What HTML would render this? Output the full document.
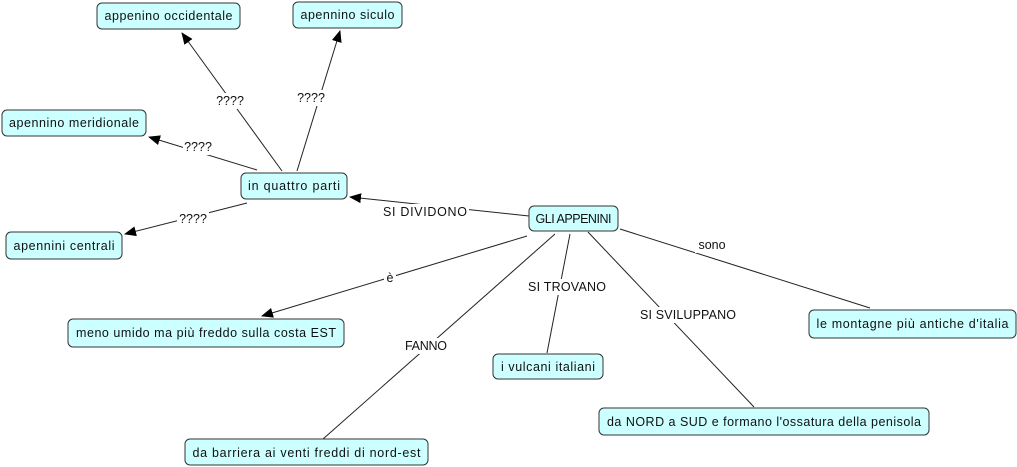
<!DOCTYPE html>
<html><head><meta charset="utf-8"><style>
html,body{margin:0;padding:0;background:#fff;width:1017px;height:467px;overflow:hidden}
svg{display:block}
text{font-family:"Liberation Sans",sans-serif;font-size:12.5px;fill:#111}
.n{fill:#ccffff;stroke:#333;stroke-width:1}
.l{stroke:#222;stroke-width:1;fill:none}
.b{fill:#fff}
</style></head><body>
<svg width="1017" height="467" viewBox="0 0 1017 467" xmlns="http://www.w3.org/2000/svg">
<defs><marker id="a" markerWidth="12" markerHeight="10" refX="11" refY="5" orient="auto" markerUnits="userSpaceOnUse"><path d="M0,0 L12,5 L0,10 z" fill="#000"/></marker></defs>
<!-- lines -->
<line class="l" x1="282" y1="171" x2="182" y2="33" marker-end="url(#a)"/>
<line class="l" x1="297" y1="171" x2="340" y2="31" marker-end="url(#a)"/>
<line class="l" x1="257" y1="170" x2="149" y2="137" marker-end="url(#a)"/>
<line class="l" x1="247" y1="203" x2="125" y2="234" marker-end="url(#a)"/>
<line class="l" x1="529" y1="216" x2="350" y2="197" marker-end="url(#a)"/>
<line class="l" x1="527" y1="236" x2="262" y2="316" marker-end="url(#a)"/>
<line class="l" x1="555" y1="234" x2="323" y2="439"/>
<line class="l" x1="570" y1="234" x2="547" y2="353"/>
<line class="l" x1="588" y1="232" x2="754" y2="407"/>
<line class="l" x1="620" y1="229" x2="870" y2="308"/>
<!-- labels -->
<rect class="b" x="215" y="93" width="30" height="16"/><text x="230" y="105" text-anchor="middle">????</text>
<rect class="b" x="296" y="90" width="30" height="16"/><text x="311" y="102" text-anchor="middle">????</text>
<rect class="b" x="183" y="139" width="30" height="16"/><text x="198" y="151" text-anchor="middle">????</text>
<rect class="b" x="177" y="211" width="32" height="16"/><text x="193" y="223" text-anchor="middle">????</text>
<rect class="b" x="381" y="204" width="88" height="16"/><text x="425" y="216" text-anchor="middle" textLength="84">SI DIVIDONO</text>
<rect class="b" x="384" y="270" width="12" height="16"/><text x="390" y="282" text-anchor="middle">è</text>
<rect class="b" x="403" y="338" width="46" height="16"/><text x="426" y="350" text-anchor="middle" textLength="42">FANNO</text>
<rect class="b" x="526" y="279" width="82" height="16"/><text x="567" y="291" text-anchor="middle" textLength="78">SI TROVANO</text>
<rect class="b" x="637" y="307" width="102" height="16"/><text x="688" y="319" text-anchor="middle" textLength="96">SI SVILUPPANO</text>
<rect class="b" x="695" y="237" width="34" height="16"/><text x="712" y="249" text-anchor="middle">sono</text>
<!-- nodes -->
<rect class="n" x="97" y="3" width="143" height="26" rx="5"/><text x="168.5" y="20" text-anchor="middle" textLength="128">appenino occidentale</text>
<rect class="n" x="293" y="2" width="109" height="26" rx="5"/><text x="347.5" y="19" text-anchor="middle" textLength="94">apennino siculo</text>
<rect class="n" x="2" y="110" width="144" height="26" rx="5"/><text x="74" y="127" text-anchor="middle" textLength="130">apennino meridionale</text>
<rect class="n" x="241" y="173" width="106" height="26" rx="5"/><text x="294" y="190" text-anchor="middle" textLength="92">in quattro parti</text>
<rect class="n" x="6" y="232" width="116" height="27" rx="5"/><text x="64" y="250" text-anchor="middle" textLength="101">apennini centrali</text>
<rect class="n" x="529" y="206" width="89" height="25" rx="5"/><text x="573.5" y="223" text-anchor="middle" textLength="76">GLI APPENINI</text>
<rect class="n" x="809" y="310" width="207" height="28" rx="5"/><text x="912.5" y="328" text-anchor="middle" textLength="192">le montagne più antiche d'italia</text>
<rect class="n" x="68" y="319" width="276" height="28" rx="5"/><text x="206" y="337" text-anchor="middle" textLength="260">meno umido ma più freddo sulla costa EST</text>
<rect class="n" x="493" y="354" width="110" height="25" rx="5"/><text x="548" y="371" text-anchor="middle" textLength="94">i vulcani italiani</text>
<rect class="n" x="599" y="408" width="330" height="27" rx="5"/><text x="764" y="426" text-anchor="middle" textLength="314">da NORD a SUD e formano l'ossatura della penisola</text>
<rect class="n" x="185" y="439" width="243" height="26" rx="5"/><text x="306.5" y="457" text-anchor="middle" textLength="228">da barriera ai venti freddi di nord-est</text>
</svg>
</body></html>
